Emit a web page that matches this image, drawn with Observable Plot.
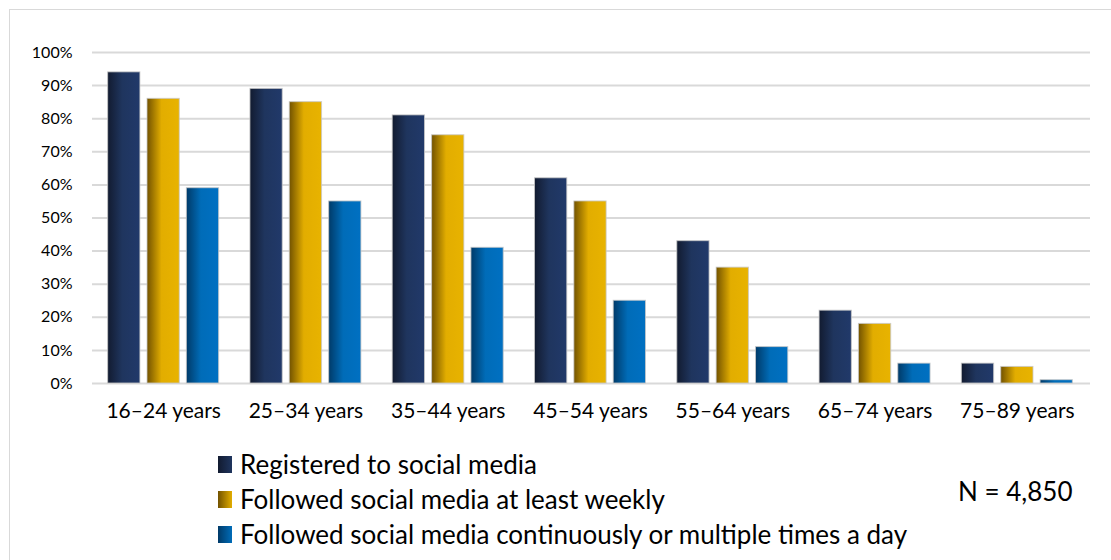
<!DOCTYPE html>
<html>
<head>
<meta charset="utf-8">
<script src="https://cdn.jsdelivr.net/npm/d3@7"></script>
<script src="https://cdn.jsdelivr.net/npm/@observablehq/plot@0.6"></script>
<style>
  html, body { margin: 0; padding: 0; background: #fff; }
  body { width: 1111px; height: 560px; position: relative; overflow: hidden;
         font-family: Lato, "Noto Sans", sans-serif; color: #000; }
  #frame { position: absolute; left: 9px; top: 9px; width: 1110px; height: 560px; border: 1.5px solid #d9d9d9; box-sizing: border-box; }
  .layer { position: absolute; left: 0; top: 0; }
  .layer svg { background: transparent !important; }
  #legend { position: absolute; left: 218px; top: 447px; font-size: 26px; line-height: 35px; }
  .item { display: flex; align-items: center; white-space: nowrap; }
  .sw { width: 14px; height: 17px; margin-right: 8px; display: inline-block; }
  #note { position: absolute; left: 958px; top: 475px; font-size: 26px; line-height: 32px; white-space: nowrap; }
</style>
</head>
<body>
<div id="frame"></div>
<div id="grid" class="layer"></div>
<div id="bars" class="layer"></div>
<div id="legend"></div>
<div id="note">N = 4,850</div>
<script>
const ageGroups = ["16–24 years", "25–34 years", "35–44 years", "45–54 years", "55–64 years", "65–74 years", "75–89 years"];
const seriesNames = ["Registered to social media", "Followed social media at least weekly", "Followed social media continuously or multiple times a day"];
const registered = [94, 89, 81, 62, 43, 22, 6];
const weekly = [86, 85, 75, 55, 35, 18, 5];
const daily = [59, 55, 41, 25, 11, 6, 1];
const yTicks = [0, 10, 20, 30, 40, 50, 60, 70, 80, 90, 100];
const gradIds = ["gNavy", "gGold", "gBlue"];
const gradStops = [
  ["#121b30", "#1f355e", "#21396a"],
  ["#725200", "#e2ad00", "#e8b300"],
  ["#003a68", "#006cb8", "#0070c2"]
];

const seriesValues = [registered, weekly, daily];
const data = [];
ageGroups.forEach((g, i) => {
  seriesNames.forEach((s, j) => data.push({age: g, series: s, value: seriesValues[j][i] / 100}));
});

const common = {
  width: 1111,
  height: 430,
  marginTop: 52,
  marginBottom: 47,
  style: { fontFamily: 'Lato, "Noto Sans", sans-serif', color: "#000", background: "transparent" }
};

// Background layer: grid lines and y axis across the full frame
const gridPlot = Plot.plot({
  ...common,
  marginLeft: 92,
  marginRight: 21,
  y: { domain: [0, 1], axis: null },
  marks: [
    Plot.ruleY(yTicks.map(t => t / 100), { stroke: "#d9d9d9", strokeWidth: 2 }),
    Plot.axisY({ ticks: yTicks.map(t => t / 100), tickFormat: d => Math.round(d * 100) + "%", tickSize: 0, tickPadding: 20, label: null, fontSize: 16 })
  ]
});
document.getElementById("grid").appendChild(gridPlot);

// Foreground layer: grouped bars faceted by age group
const barPlot = Plot.plot({
  ...common,
  marginLeft: 92,
  marginRight: 23,
  fx: { domain: ageGroups, paddingInner: 0.22, paddingOuter: 0.11, round: false, label: null },
  x: { domain: seriesNames, paddingInner: 0.18, paddingOuter: 0, round: false, axis: null },
  y: { domain: [0, 1], axis: null },
  color: { type: "ordinal", domain: seriesNames, range: gradIds.map(id => `url(#${id})`) },
  marks: [
    Plot.barY(data, { fx: "age", x: "series", y: "value", fill: "series", stroke: "#c8c8c8", strokeWidth: 1, strokeOpacity: 0.8 }),
    Plot.axisFx({ anchor: "bottom", tickSize: 0, tickPadding: 20, fontSize: 21, label: null })
  ]
});
const svg = d3.select(barPlot);
const defs = svg.insert("defs", ":first-child");
gradIds.forEach((id, k) => {
  const lg = defs.append("linearGradient").attr("id", id).attr("x1", "0").attr("x2", "1").attr("y1", "0").attr("y2", "0");
  lg.append("stop").attr("offset", "0").attr("stop-color", gradStops[k][0]);
  lg.append("stop").attr("offset", "0.45").attr("stop-color", gradStops[k][1]);
  lg.append("stop").attr("offset", "1").attr("stop-color", gradStops[k][2]);
});
document.getElementById("bars").appendChild(barPlot);

const legend = d3.select("#legend");
seriesNames.forEach((s, k) => {
  const item = legend.append("div").attr("class", "item");
  item.append("span").attr("class", "sw")
    .style("background", `linear-gradient(to right, ${gradStops[k][0]}, ${gradStops[k][1]})`);
  item.append("span").text(s);
});
</script>
</body>
</html>
